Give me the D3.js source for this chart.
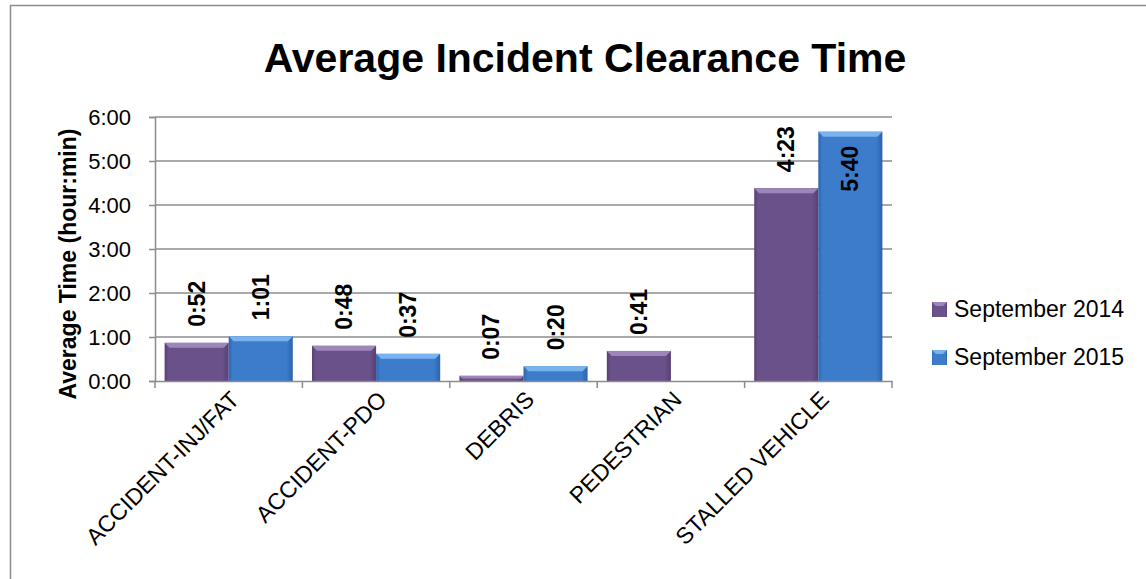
<!DOCTYPE html>
<html>
<head>
<meta charset="utf-8">
<script src="https://cdn.jsdelivr.net/npm/d3@7"></script>
<style>
  body { margin:0; background:#fff; }
  text { font-family: "Liberation Sans", Arial, sans-serif; fill:#000; }
</style>
</head>
<body>
<div id="canvas"></div>
<script>
// data (minutes)
var categories = ['ACCIDENT-INJ/FAT','ACCIDENT-PDO','DEBRIS','PEDESTRIAN','STALLED VEHICLE'];
var seriesNames = ['September 2014','September 2015'];
var sep2014 = [52, 48, 7, 41, 263];
var sep2015 = [61, 37, 20, null, 340];
var yTicks = [0, 60, 120, 180, 240, 300, 360];

var W = 1146, H = 579;
var m = {t:117, r:254, b:198, l:155};
var w = W - m.l - m.r, h = H - m.t - m.b;

var svg = d3.select('#canvas').append('svg')
    .attr('width', W).attr('height', H);

var defs = svg.append('defs');
var colors = [
  {id:'g0', dark:'#573f75', mid:'#6b5189', light:'#8a70a8', top:'#9e86bb'},
  {id:'g1', dark:'#2d64ab', mid:'#3c7ccb', light:'#5c99e0', top:'#78b2ef'}
];
colors.forEach(function(c){
  var g = defs.append('linearGradient').attr('id', c.id)
      .attr('x1','0').attr('x2','1').attr('y1','0').attr('y2','0');
  g.append('stop').attr('offset','0').attr('stop-color', c.dark);
  g.append('stop').attr('offset','0.06').attr('stop-color', c.mid);
  g.append('stop').attr('offset','0.9').attr('stop-color', c.mid);
  g.append('stop').attr('offset','1').attr('stop-color', c.dark);
});

// frame
svg.append('path').attr('d','M10.5,' + H + 'V5.5H' + W)
    .attr('fill','none').attr('stroke','#8c8c8c').attr('stroke-width',1.5);

// title
svg.append('text').attr('x', 585).attr('y', 72)
    .attr('text-anchor','middle').attr('font-size', 41).attr('font-weight','bold')
    .text('Average Incident Clearance Time');

var plot = svg.append('g').attr('transform','translate(' + m.l + ',' + m.t + ')');

var x = d3.scaleBand().domain(categories).range([0, w]).paddingInner(0).paddingOuter(0);
var x1 = d3.scaleBand().domain([0,1]).range([0, x.bandwidth()]).paddingOuter(0.15);
var y = d3.scaleLinear().domain([0, 360]).range([h, 0]);

function fmt(v){ return Math.floor(v/60) + ':' + d3.format('02d')(v % 60); }

// gridlines
plot.selectAll('.grid').data(yTicks.slice(1)).enter().append('line')
    .attr('x1', 0).attr('x2', w)
    .attr('y1', function(d){ return y(d); }).attr('y2', function(d){ return y(d); })
    .attr('stroke','#8c8c8c').attr('stroke-width',1.5);

// y axis
var yAxis = plot.append('g').call(d3.axisLeft(y).tickValues(yTicks).tickFormat(function(d){ return (d/60) + ':00'; }).tickSize(6).tickPadding(18));
yAxis.select('.domain').attr('stroke','#8c8c8c').attr('stroke-width',1.5);
yAxis.selectAll('.tick line').attr('stroke','#8c8c8c').attr('stroke-width',1.5);
yAxis.selectAll('text').attr('font-size', 22).attr('font-family','"Liberation Sans", Arial, sans-serif').attr('fill','#000');

// bars
var rows = categories.map(function(c, i){ return {cat:c, vals:[sep2014[i], sep2015[i]]}; });
var groups = plot.selectAll('.cat').data(rows).enter().append('g')
    .attr('transform', function(d){ return 'translate(' + x(d.cat) + ',0)'; });

var bars = groups.selectAll('.bar')
    .data(function(d){ return d.vals.map(function(v, s){ return {v:v, s:s}; }).filter(function(e){ return e.v != null; }); })
    .enter().append('g');

bars.append('rect')
    .attr('x', function(d){ return x1(d.s); })
    .attr('y', function(d){ return y(d.v); })
    .attr('width', x1.bandwidth())
    .attr('height', function(d){ return h - y(d.v); })
    .attr('fill', function(d){ return 'url(#' + colors[d.s].id + ')'; });

// top bevel
bars.append('path')
    .attr('d', function(d){
      var x0 = x1(d.s), bw = x1.bandwidth(), t = y(d.v), b = Math.min(5, (h - t) / 2);
      return 'M' + x0 + ',' + t + 'H' + (x0 + bw) + 'L' + (x0 + bw - b) + ',' + (t + b) + 'H' + (x0 + b) + 'Z';
    })
    .attr('fill', function(d){ return colors[d.s].top; });

// data labels
bars.append('text')
    .attr('transform', function(d){
      var cx = x1(d.s) + x1.bandwidth() / 2, t = y(d.v);
      var inside = t - 14 - 47 < 0;
      var ty = inside ? t + 14 : t - 16;
      return 'translate(' + (cx + 8) + ',' + ty + ') rotate(-90)';
    })
    .attr('text-anchor', function(d){ return (y(d.v) - 61 < 0) ? 'end' : 'start'; })
    .attr('font-size', 23).attr('font-weight','bold')
    .text(function(d){ return fmt(d.v); });

// x axis
var xAxis = plot.append('g').attr('transform','translate(0,' + h + ')')
    .call(d3.axisBottom(x).tickSize(0).tickFormat(''));
xAxis.select('.domain').attr('stroke','#8c8c8c').attr('stroke-width',1.5);
xAxis.selectAll('.sep').data(d3.range(categories.length + 1)).enter().append('line')
    .attr('x1', function(i){ return i * x.step(); }).attr('x2', function(i){ return i * x.step(); })
    .attr('y1', 0).attr('y2', 7).attr('stroke','#8c8c8c').attr('stroke-width',1.5);

plot.selectAll('.xlab').data(categories).enter().append('text')
    .attr('transform', function(d){ return 'translate(' + (x(d) + x.bandwidth()/2 + 12) + ',' + (h + 20) + ') rotate(-45)'; })
    .attr('text-anchor','end').attr('font-size', 23)
    .text(function(d){ return d; });

// y title
svg.append('text')
    .attr('transform','translate(76,264) rotate(-90)')
    .attr('text-anchor','middle').attr('font-size', 23).attr('font-weight','bold')
    .text('Average Time (hour:min)');

// legend
var legend = svg.append('g').attr('transform','translate(932,302)');
var li = legend.selectAll('g').data(seriesNames).enter().append('g')
    .attr('transform', function(d, i){ return 'translate(0,' + (i * 48) + ')'; });
li.append('rect').attr('width', 15).attr('height', 15)
    .attr('fill', function(d, i){ return 'url(#' + colors[i].id + ')'; });
li.append('path').attr('d','M0,0H15L11,4H4Z')
    .attr('fill', function(d, i){ return colors[i].top; });
li.append('text').attr('x', 22).attr('y', 15).attr('font-size', 23)
    .text(function(d){ return d; });
</script>
</body>
</html>
